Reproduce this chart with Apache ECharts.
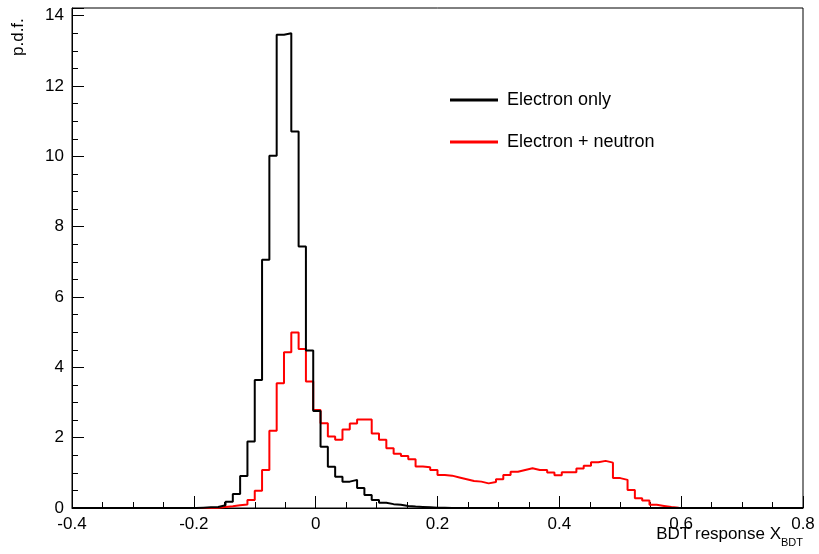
<!DOCTYPE html>
<html>
<head>
<meta charset="utf-8">
<script src="https://cdn.jsdelivr.net/npm/echarts@6/dist/echarts.min.js"></script>
<style>html,body,#main{width:100%;height:100%;margin:0;background:#fff;}</style>
</head>
<body>
<div id="main"></div>
<script>
// histogram: 100 bins of 0.012 from -0.4 to 0.8
var xMin = -0.4, binW = 0.012, nBins = 100;
var blackStart = 17;
var blackVals = [0.01,0.02,0.03,0.08,0.18,0.4,0.91,1.89,3.64,7.06,10.02,13.46,13.5,10.71,7.44,4.48,2.76,1.74,1.17,0.89,0.75,0.8,0.57,0.37,0.23,0.15,0.11,0.09,0.06,0.04,0.03,0.02,0.01,0.01];
var redStart = 19;
var redVals = [0.01,0.03,0.05,0.08,0.1,0.23,0.49,1.08,2.2,3.55,4.43,4.99,4.52,3.6,2.79,2.41,2.03,1.94,2.23,2.4,2.52,
  2.52,2.12,1.94,1.70,1.54,1.48,1.39,1.18,1.16,1.08,0.94,0.92,0.87,0.82,0.77,0.75,0.70,0.74,0.82,0.94,1.03,1.08,1.13,1.08,1.08,1.01,0.93,1.02,1.02,1.12,1.20,1.30,1.34,1.29,
  0.85,0.80,0.51,0.28,0.21,0.09,0.06,0.03,0.01];
var seriesNames = ['Electron only', 'Electron + neutron'];

function histPoints(start, vals) {
  var pts = [];
  for (var k = 0; k < nBins; k++) {
    var v = (k >= start && k < start + vals.length) ? vals[k - start] : 0;
    pts.push([+(xMin + k * binW).toFixed(4), v]);
  }
  pts.push([+(xMin + nBins * binW).toFixed(4), 0]);
  return pts;
}

var font = 'Liberation Sans';
var chart = echarts.init(document.getElementById('main'));
var axisCommon = {
  axisLine: {onZero: false, lineStyle: {color: '#000', width: 1}},
  axisTick: {inside: true, length: 12, lineStyle: {color: '#000'}},
  minorTick: {show: true, splitNumber: 4, length: 6, lineStyle: {color: '#000'}},
  splitLine: {show: false},
  axisLabel: {color: '#000', fontFamily: font, fontSize: 17}
};
var option = {
  animation: false,
  grid: {left: 72, right: 16, top: 8, bottom: 46, containLabel: false, outerBoundsMode: 'none',
         show: true, borderColor: '#000', borderWidth: 1},
  legend: {
    orient: 'vertical', left: 445, top: 86, itemGap: 24, itemWidth: 48, itemHeight: 3,
    icon: 'rect', textStyle: {fontFamily: font, fontSize: 18, color: '#000', padding: [0, 0, 0, 4]},
    data: seriesNames
  },
  graphic: [
    {type: 'text', right: 16, top: 526, style: {text: '{a|BDT response X}{s|BDT}', fill: '#000',
      rich: {a: {fontFamily: font, fontSize: 17, fill: '#000'},
             s: {fontFamily: font, fontSize: 11, fill: '#000', padding: [16, 0, 0, 0]}}}},
    {type: 'text', x: 10, y: 56, rotation: Math.PI / 2, style: {text: 'p.d.f.', fill: '#000',
      fontFamily: font, fontSize: 17, align: 'left', verticalAlign: 'top'}}
  ],
  xAxis: Object.assign({type: 'value', min: -0.4, max: 0.8, interval: 0.2}, axisCommon),
  yAxis: Object.assign({type: 'value', min: 0, max: 14.22, interval: 2}, axisCommon),
  series: [
    {name: seriesNames[0], type: 'line', step: 'end', symbol: 'none', data: histPoints(blackStart, blackVals),
     color: '#000', lineStyle: {color: '#000', width: 2}, z: 3},
    {name: seriesNames[1], type: 'line', step: 'end', symbol: 'none', data: histPoints(redStart, redVals),
     color: '#ff0000', lineStyle: {color: '#ff0000', width: 2}, z: 2}
  ]
};
chart.setOption(option);
window.onresize = chart.resize;
</script>
</body>
</html>
